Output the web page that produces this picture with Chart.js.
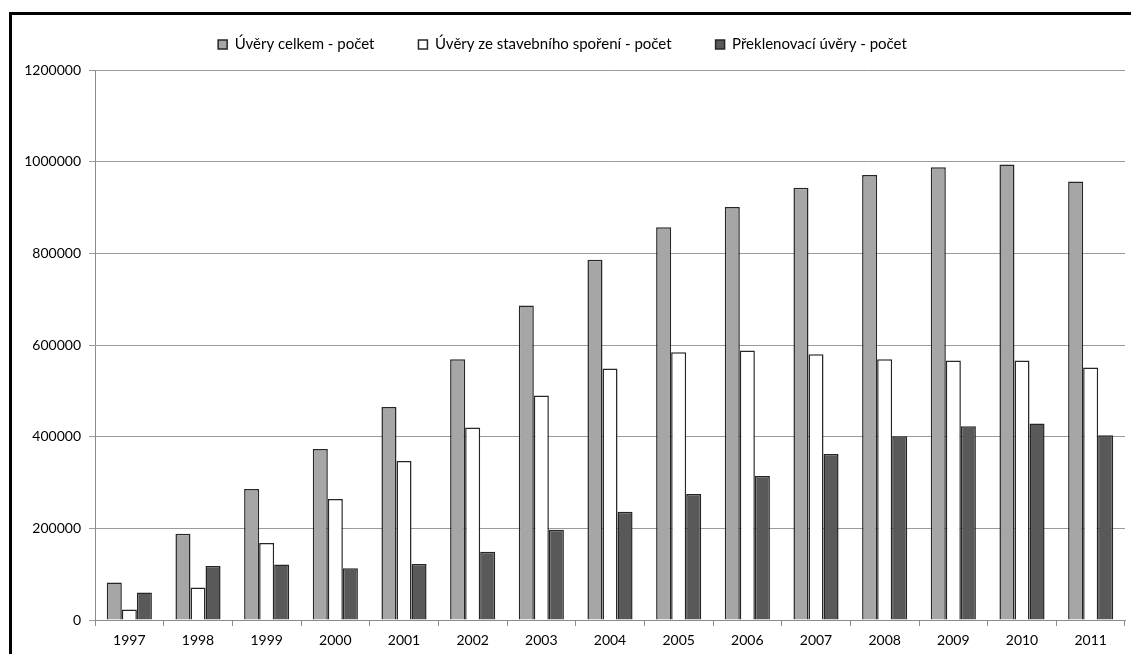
<!DOCTYPE html>
<html>
<head>
<meta charset="utf-8">
<script src="https://cdn.jsdelivr.net/npm/chart.js@4/dist/chart.umd.min.js"></script>
<style>
  html, body { margin: 0; padding: 0; background: #fff; overflow: hidden; width: 1131px; height: 654px; }
  #frame { position: absolute; left: 9px; top: 12px; width: 1300px; height: 800px; border: 3px solid #000; box-sizing: border-box; }
  #wrap { position: absolute; left: 0; top: 0; width: 1131px; height: 654px; }
</style>
</head>
<body>
<div id="frame"></div>
<div id="wrap"><canvas id="c" width="1131" height="654"></canvas></div>
<script>
// Loan counts per year (1997–2011)
const years = ['1997','1998','1999','2000','2001','2002','2003','2004','2005','2006','2007','2008','2009','2010','2011'];
const uveryCelkem = [82000, 188000, 286000, 373000, 465000, 569000, 686000, 786000, 857000, 901000, 943000, 971000, 988000, 994000, 957000];
const uveryStavebni = [23000, 71000, 168000, 264000, 347000, 420000, 490000, 549000, 584000, 588000, 580000, 569000, 566000, 566000, 551000];
const preklenovaci = [60000, 118000, 121000, 113000, 122000, 149000, 197000, 236000, 275000, 314000, 362000, 401000, 423000, 429000, 403000];
const seriesNames = ['Úvěry celkem - počet', 'Úvěry ze stavebního spoření - počet', 'Překlenovací úvěry - počet'];
const yTicks = [0, 200000, 400000, 600000, 800000, 1000000, 1200000];

const FONT = 'Lato, "Open Sans", sans-serif';

// Extra space between the legend row and the plot area
const legendGap = {
  id: 'legendGap',
  beforeInit(chart) {
    const origFit = chart.legend.fit;
    chart.legend.fit = function () {
      origFit.call(this);
      this.height += 8;
    };
  }
};

new Chart(document.getElementById('c'), {
  type: 'bar',
  data: {
    labels: years,
    datasets: [
      { label: seriesNames[0], data: uveryCelkem, backgroundColor: '#a6a6a6', borderColor: '#262626', borderWidth: 1.5 },
      { label: seriesNames[1], data: uveryStavebni, backgroundColor: '#ffffff', borderColor: '#262626', borderWidth: 1.5 },
      { label: seriesNames[2], data: preklenovaci, backgroundColor: '#595959', borderColor: '#262626', borderWidth: 1.5 }
    ]
  },
  plugins: [legendGap],
  options: {
    responsive: false,
    animation: false,
    devicePixelRatio: 1,
    layout: { padding: { top: -7, right: 6, bottom: 0, left: 0 } },
    datasets: { bar: { categoryPercentage: 0.657, barPercentage: 1.0 } },
    plugins: {
      tooltip: { enabled: false },
      legend: {
        position: 'top',
        labels: {
          boxWidth: 9, boxHeight: 9, padding: 44,
          color: '#000',
          font: { family: FONT, size: 15 },
          useBorderRadius: false
        }
      }
    },
    scales: {
      x: {
        offset: true,
        grid: { display: true, drawOnChartArea: false, offset: true, tickLength: 6, color: '#8c8c8c', lineWidth: 1 },
        border: { display: true, color: '#8c8c8c', width: 1 },
        ticks: { color: '#000', font: { family: FONT, size: 14 }, padding: 6, maxRotation: 0 },
        afterFit(scale) { scale.height = 34; }
      },
      y: {
        min: 0, max: 1200000,
        afterBuildTicks(scale) { scale.ticks = yTicks.map(v => ({ value: v })); },
        grid: { color: '#9a9a9a', lineWidth: 1, tickLength: 6 },
        border: { display: true, color: '#8c8c8c', width: 1 },
        ticks: { color: '#000', font: { family: FONT, size: 14 }, padding: 8, callback: v => String(v) },
        afterFit(scale) { scale.width = 95; }
      }
    }
  }
});
</script>
</body>
</html>
